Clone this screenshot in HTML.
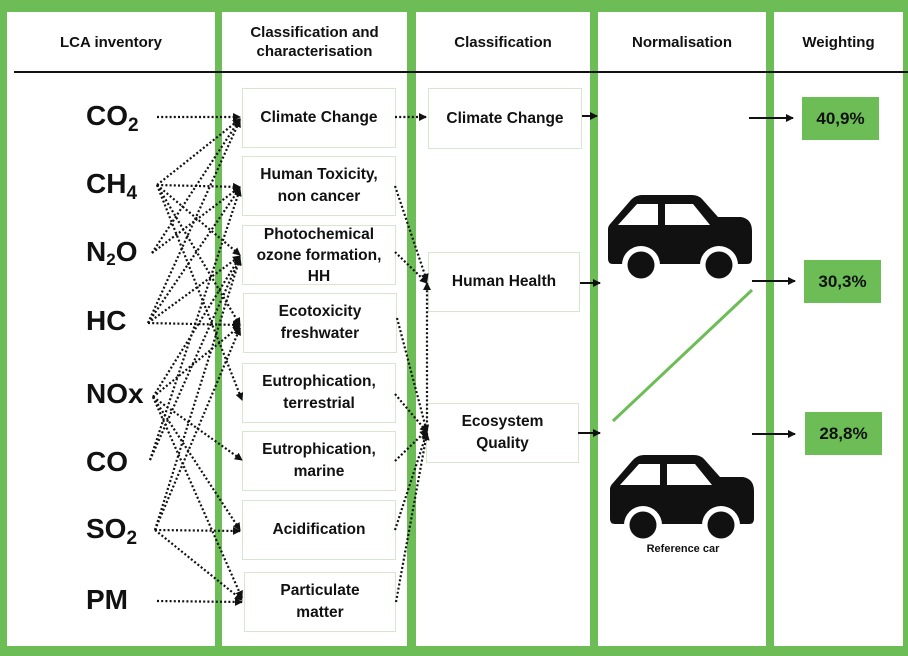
<!DOCTYPE html>
<html><head><meta charset="utf-8"><style>
body{margin:0;width:908px;height:656px;background:#6cbd55;position:relative;overflow:hidden;font-family:"Liberation Sans",Arial,sans-serif;font-weight:bold;color:#111}
.col{position:absolute;top:12px;height:634px;background:#fff}
.h{position:absolute;top:12px;height:60px;display:flex;align-items:center;justify-content:center;text-align:center;font-size:15px;line-height:19px}
.b{position:absolute;border:1px solid #d6e6cf;background:#fff;display:flex;align-items:center;justify-content:center;text-align:center;font-size:15.5px;line-height:22px}
.s{position:absolute;font-size:28px;left:86px}
.s sub{font-size:19px;vertical-align:-6px}
.w{position:absolute;background:#6cbd55;width:77px;height:43px;display:flex;align-items:center;justify-content:center;font-size:17px}
</style></head><body>
<div class="col" style="left:7px;width:208px"></div>
<div class="col" style="left:222px;width:185px"></div>
<div class="col" style="left:416px;width:174px"></div>
<div class="col" style="left:598px;width:168px"></div>
<div class="col" style="left:774px;width:129px"></div>
<div class="h" style="left:7px;width:208px">LCA inventory</div>
<div class="h" style="left:222px;width:185px">Classification and<br>characterisation</div>
<div class="h" style="left:416px;width:174px">Classification</div>
<div class="h" style="left:598px;width:168px">Normalisation</div>
<div class="h" style="left:774px;width:129px">Weighting</div>
<div style="position:absolute;left:14px;top:71px;width:894px;height:2px;background:#111"></div>

<div class="s" style="top:100px">CO<sub>2</sub></div>
<div class="s" style="top:168px">CH<sub>4</sub></div>
<div class="s" style="top:236px">N<sub style="font-size:17px;vertical-align:-4px">2</sub>O</div>
<div class="s" style="top:305px">HC</div>
<div class="s" style="top:378px">NOx</div>
<div class="s" style="top:446px">CO</div>
<div class="s" style="top:513px">SO<sub>2</sub></div>
<div class="s" style="top:584px">PM</div>

<div class="b" style="left:242px;top:88px;width:152px;height:58px">Climate Change</div>
<div class="b" style="left:242px;top:156px;width:152px;height:58px">Human Toxicity,<br>non cancer</div>
<div class="b" style="left:242px;top:225px;width:152px;height:58px;line-height:21px">Photochemical<br>ozone formation,<br>HH</div>
<div class="b" style="left:243px;top:293px;width:152px;height:58px">Ecotoxicity<br>freshwater</div>
<div class="b" style="left:242px;top:363px;width:152px;height:58px">Eutrophication,<br>terrestrial</div>
<div class="b" style="left:242px;top:431px;width:152px;height:58px">Eutrophication,<br>marine</div>
<div class="b" style="left:242px;top:500px;width:152px;height:58px">Acidification</div>
<div class="b" style="left:244px;top:572px;width:150px;height:58px">Particulate<br>matter</div>

<div class="b" style="left:428px;top:88px;width:152px;height:59px">Climate Change</div>
<div class="b" style="left:428px;top:252px;width:150px;height:58px">Human Health</div>
<div class="b" style="left:426px;top:403px;width:151px;height:58px">Ecosystem<br>Quality</div>

<div class="w" style="left:802px;top:97px">40,9%</div>
<div class="w" style="left:804px;top:260px">30,3%</div>
<div class="w" style="left:805px;top:412px">28,8%</div>

<svg width="908" height="656" style="position:absolute;left:0;top:0">
<defs>
<marker id="a" markerWidth="8" markerHeight="8" refX="7" refY="4" orient="auto" markerUnits="userSpaceOnUse"><path d="M0,0L8,4L0,8z" fill="#111"/></marker>
<g id="car">
<path d="M3,28 L22,6 Q27,0 34,0 L84,0 Q90,0 94,4 L110,22 L133,22 Q144,24 144,36 L144,64 Q144,69 139,69 L5,69 Q0,69 0,64 L0,34 Q0,31 3,28Z" fill="#111"/>
<path d="M10,30 L29,9 L50,9 L50,30Z M57,9 L85,9 L102,30 L57,30Z" fill="#fff"/>
<circle cx="33" cy="70" r="19" fill="#fff"/><circle cx="111" cy="70" r="19" fill="#fff"/>
<circle cx="33" cy="70" r="13.5" fill="#111"/><circle cx="111" cy="70" r="13.5" fill="#111"/>
</g>
</defs>
<g stroke="#111" stroke-width="2.2" stroke-dasharray="2,2.2" fill="none" marker-end="url(#a)">
<line x1="157" y1="117" x2="240" y2="117"/>
<line x1="157" y1="185" x2="240" y2="119"/>
<line x1="157" y1="185" x2="240" y2="187"/>
<line x1="157" y1="185" x2="240" y2="255"/>
<line x1="157" y1="185" x2="240" y2="325"/>
<line x1="157" y1="185" x2="242" y2="400"/>
<line x1="152" y1="253" x2="240" y2="119"/>
<line x1="152" y1="253" x2="240" y2="187"/>
<line x1="148" y1="323" x2="240" y2="120"/>
<line x1="148" y1="323" x2="240" y2="188"/>
<line x1="148" y1="323" x2="240" y2="256"/>
<line x1="148" y1="323" x2="240" y2="325"/>
<line x1="153" y1="397" x2="240" y2="257"/>
<line x1="153" y1="397" x2="240" y2="326"/>
<line x1="153" y1="397" x2="242" y2="460"/>
<line x1="153" y1="397" x2="240" y2="530"/>
<line x1="153" y1="397" x2="242" y2="598"/>
<line x1="150" y1="460" x2="240" y2="189"/>
<line x1="150" y1="460" x2="240" y2="258"/>
<line x1="155" y1="530" x2="240" y2="258"/>
<line x1="155" y1="530" x2="240" y2="328"/>
<line x1="155" y1="530" x2="240" y2="531"/>
<line x1="155" y1="530" x2="242" y2="600"/>
<line x1="157" y1="601" x2="242" y2="602"/>
<line x1="395" y1="117" x2="426" y2="117"/>
<line x1="395" y1="186" x2="427" y2="281"/>
<line x1="395" y1="252" x2="427" y2="283"/>
<line x1="397" y1="318" x2="427" y2="432"/>
<line x1="395" y1="394" x2="427" y2="432"/>
<line x1="395" y1="461" x2="427" y2="430"/>
<line x1="395" y1="530" x2="427" y2="432"/>
<line x1="396" y1="602" x2="427" y2="433"/>
<line x1="427" y1="435" x2="427" y2="283"/>
</g>
<g stroke="#111" stroke-width="2" marker-end="url(#a)">
<line x1="582" y1="116" x2="597" y2="116"/>
<line x1="580" y1="283" x2="600" y2="283"/>
<line x1="578" y1="433" x2="600" y2="433"/>
<line x1="749" y1="118" x2="793" y2="118"/>
<line x1="752" y1="281" x2="795" y2="281"/>
<line x1="752" y1="434" x2="795" y2="434"/>
</g>
<line x1="613" y1="421" x2="752" y2="290" stroke="#6cbd55" stroke-width="3"/>
<use href="#car" x="608" y="195"/>
<use href="#car" x="610" y="455"/>
<text x="683" y="552" font-size="11" text-anchor="middle" font-weight="bold" font-family="Liberation Sans, sans-serif" fill="#111">Reference car</text>
</svg>
</body></html>
